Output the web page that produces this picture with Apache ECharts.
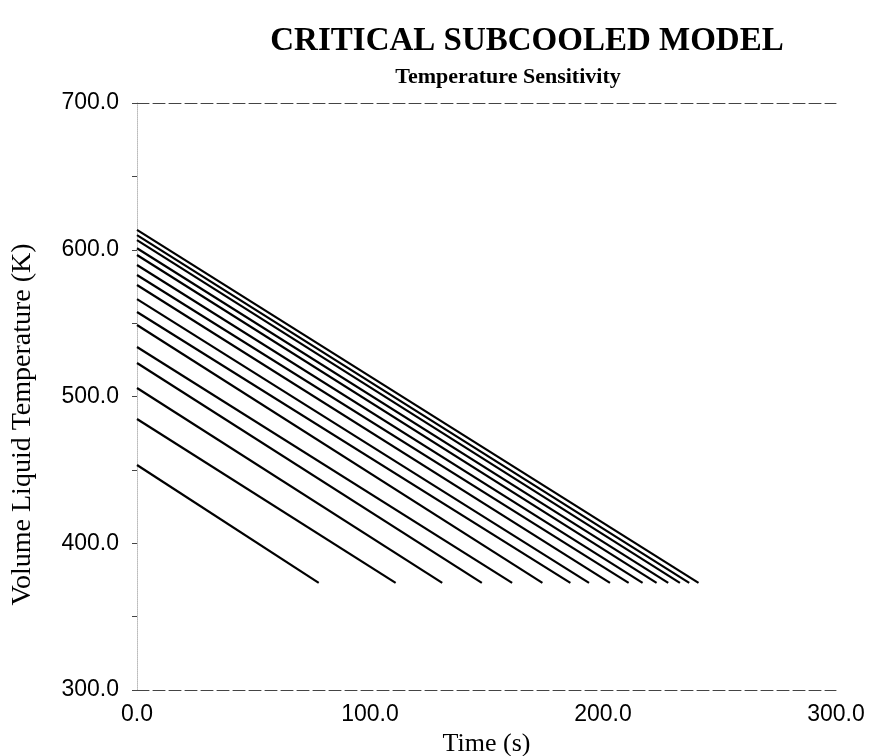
<!DOCTYPE html>
<html>
<head>
<meta charset="utf-8">
<script src="https://cdn.jsdelivr.net/npm/echarts@6/dist/echarts.min.js"></script>
<style>
  html, body { margin: 0; padding: 0; background: #fff; }
  #chart { width: 870px; height: 756px; }
</style>
</head>
<body>
<div id="chart"></div>
<script>
// start temperature (K) at t=0 and time (s) when each run reaches saturation
var startTemps = [453.3, 484.7, 505.8, 522.8, 533.7, 548.7, 557.6, 566.4, 576.0, 582.8, 589.6, 596.4, 601.0, 606.6, 610.0, 613.5];
var endTimes = [78, 111, 131, 148, 161, 174, 186, 194, 203, 211, 217, 223, 228, 233, 237, 241];
var endTemp = 373;
var xTicks = [0, 100, 200, 300];
var yTicks = [300, 400, 500, 600, 700];

var series = [];
for (var i = 0; i < startTemps.length; i++) {
    series.push({
        type: 'line',
        data: [[0, startTemps[i]], [endTimes[i], endTemp]],
        showSymbol: false,
        lineStyle: { color: '#000', width: 2.2 },
        silent: true
    });
}

var serif = '"Liberation Serif", "DejaVu Serif", serif';
var sans = '"Liberation Sans", Arial, sans-serif';

var myChart = echarts.init(document.getElementById('chart'));
var option = {
    animation: false,
    backgroundColor: '#fff',
    title: [
        {
            text: 'CRITICAL SUBCOOLED MODEL',
            left: 522, top: 20, textAlign: 'center',
            textStyle: { fontFamily: serif, fontWeight: 'bold', fontSize: 33, color: '#000' }
        },
        {
            text: 'Temperature Sensitivity',
            left: 503, top: 61, textAlign: 'center',
            textStyle: { fontFamily: serif, fontWeight: 'bold', fontSize: 22, color: '#000' }
        }
    ],
    grid: { left: 137, right: 34, top: 103, bottom: 66, outerBoundsMode: 'none' },
    xAxis: [
        {
            type: 'value',
            min: xTicks[0], max: xTicks[xTicks.length - 1], interval: 100,
            name: 'Time (s)', nameLocation: 'middle', nameGap: 35,
            nameTextStyle: { fontFamily: serif, fontSize: 26, color: '#000' },
            axisLine: { lineStyle: { color: '#444', type: [12, 4], width: 1 } },
            axisTick: { show: false },
            splitLine: { show: false },
            axisLabel: {
                margin: 13, fontFamily: sans, fontSize: 23, color: '#000',
                formatter: function (v) { return v.toFixed(1); }
            }
        },
        {
            type: 'value', position: 'top',
            min: 0, max: 300,
            axisLine: { lineStyle: { color: '#444', type: [12, 4], width: 1 } },
            axisTick: { show: false }, axisLabel: { show: false }, splitLine: { show: false }
        }
    ],
    yAxis: [
        {
            type: 'value',
            min: yTicks[0], max: yTicks[yTicks.length - 1], interval: 100,
            name: 'Volume Liquid Temperature (K)', nameLocation: 'middle', nameGap: 100,
            nameTextStyle: { fontFamily: serif, fontSize: 28, color: '#000', padding: [0, 56, 0, 0] },
            axisLine: { show: true, lineStyle: { color: '#ddd', type: 'dotted' } },
            axisTick: { show: true, length: 4, lineStyle: { color: '#666' } },
            minorTick: { show: true, splitNumber: 2, length: 4, lineStyle: { color: '#666' } },
            splitLine: { show: false },
            axisLabel: {
                margin: 18, fontFamily: sans, fontSize: 23, color: '#000',
                formatter: function (v) { return v.toFixed(1); }
            }
        },
        {
            type: 'value', position: 'right',
            min: 300, max: 700, interval: 100,
            axisLine: { show: true, lineStyle: { color: '#bbb', type: 'dotted' } },
            axisTick: { show: true, inside: true, length: 5, lineStyle: { color: '#444' } },
            minorTick: { show: true, splitNumber: 2, length: 5, lineStyle: { color: '#444' } },
            axisLabel: { show: false }, splitLine: { show: false }
        }
    ],
    series: series
};
myChart.setOption(option);
</script>
</body>
</html>
